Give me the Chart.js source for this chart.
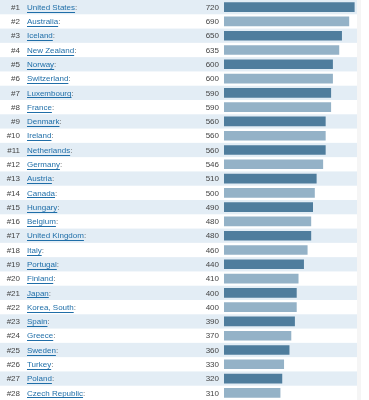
<!DOCTYPE html>
<html lang="en">
<head>
    <meta charset="UTF-8">
    <title>Ranking</title>
    <style>
        body {
            margin: 0;
            padding: 0;
            background-color: white;
        }
        .chart-box {
            width: 369px;
            height: 400px;
        }
    </style>
    <script src="https://cdn.jsdelivr.net/npm/chart.js"></script>
</head>
<body>
<div class="chart-box">
    <canvas id="rankChart"></canvas>
</div>
<script>
    // Donnees
    const countries = ['United States', 'Australia', 'Iceland', 'New Zealand', 'Norway', 'Switzerland',
        'Luxembourg', 'France', 'Denmark', 'Ireland', 'Netherlands', 'Germany', 'Austria', 'Canada',
        'Hungary', 'Belgium', 'United Kingdom', 'Italy', 'Portugal', 'Finland', 'Japan', 'Korea, South',
        'Spain', 'Greece', 'Sweden', 'Turkey', 'Poland', 'Czech Republic'];
    const values = [720, 690, 650, 635, 600, 600, 590, 590, 560, 560, 560, 546, 510, 500,
        490, 480, 480, 460, 440, 410, 400, 400, 390, 370, 360, 330, 320, 310];
    const ranks = countries.map((c, i) => '#' + (i + 1));

    const darkBar = '#4f7d9d';
    const lightBar = '#94b2c7';
    const bandColor = '#e3edf5';
    const font = '8px "Liberation Sans", Arial, sans-serif';

    // fond des lignes alternees
    const rowBands = {
        id: 'rowBands',
        beforeDraw(chart) {
            const ctx = chart.ctx;
            const y = chart.scales.y;
            const h = chart.height / countries.length;
            ctx.save();
            ctx.fillStyle = '#f5f5f5';
            ctx.fillRect(357, 0, 4, chart.height);
            ctx.fillStyle = bandColor;
            countries.forEach((c, i) => {
                if (i % 2 === 0) {
                    const yc = y.getPixelForValue(i);
                    ctx.fillRect(0, yc - h / 2, 357, h);
                }
            });
            ctx.restore();
        }
    };

    // rang, pays (lien), valeur
    const rowLabels = {
        id: 'rowLabels',
        afterDatasetsDraw(chart) {
            const ctx = chart.ctx;
            const y = chart.scales.y;
            ctx.save();
            ctx.font = font;
            ctx.textBaseline = 'middle';
            countries.forEach((c, i) => {
                const yc = y.getPixelForValue(i) + 0.5;
                ctx.fillStyle = '#444';
                ctx.textAlign = 'right';
                ctx.fillText(ranks[i], 20, yc);
                ctx.fillText(values[i], 219, yc);
                ctx.textAlign = 'left';
                ctx.fillStyle = '#1f6ea8';
                ctx.fillText(c, 27, yc);
                const w = ctx.measureText(c).width;
                ctx.fillRect(27, Math.round(yc + 4), w, 1);
                ctx.fillStyle = '#666';
                ctx.fillText(':', 27 + w, yc);
            });
            ctx.restore();
        }
    };

    const ctx = document.getElementById('rankChart').getContext('2d');
    new Chart(ctx, {
        type: 'bar',
        data: {
            labels: countries,
            datasets: [{
                data: values,
                backgroundColor: values.map((v, i) => i % 2 === 0 ? darkBar : lightBar),
                borderWidth: 0,
                barThickness: 9
            }]
        },
        options: {
            indexAxis: 'y',
            responsive: true,
            maintainAspectRatio: false,
            animation: false,
            layout: { padding: { left: 224, right: 12, top: 0, bottom: 0 } },
            plugins: {
                legend: { display: false },
                tooltip: { enabled: false }
            },
            scales: {
                x: { display: false, min: 0, max: 735 },
                y: { display: false }
            }
        },
        plugins: [rowBands, rowLabels]
    });
</script>
</body>
</html>
